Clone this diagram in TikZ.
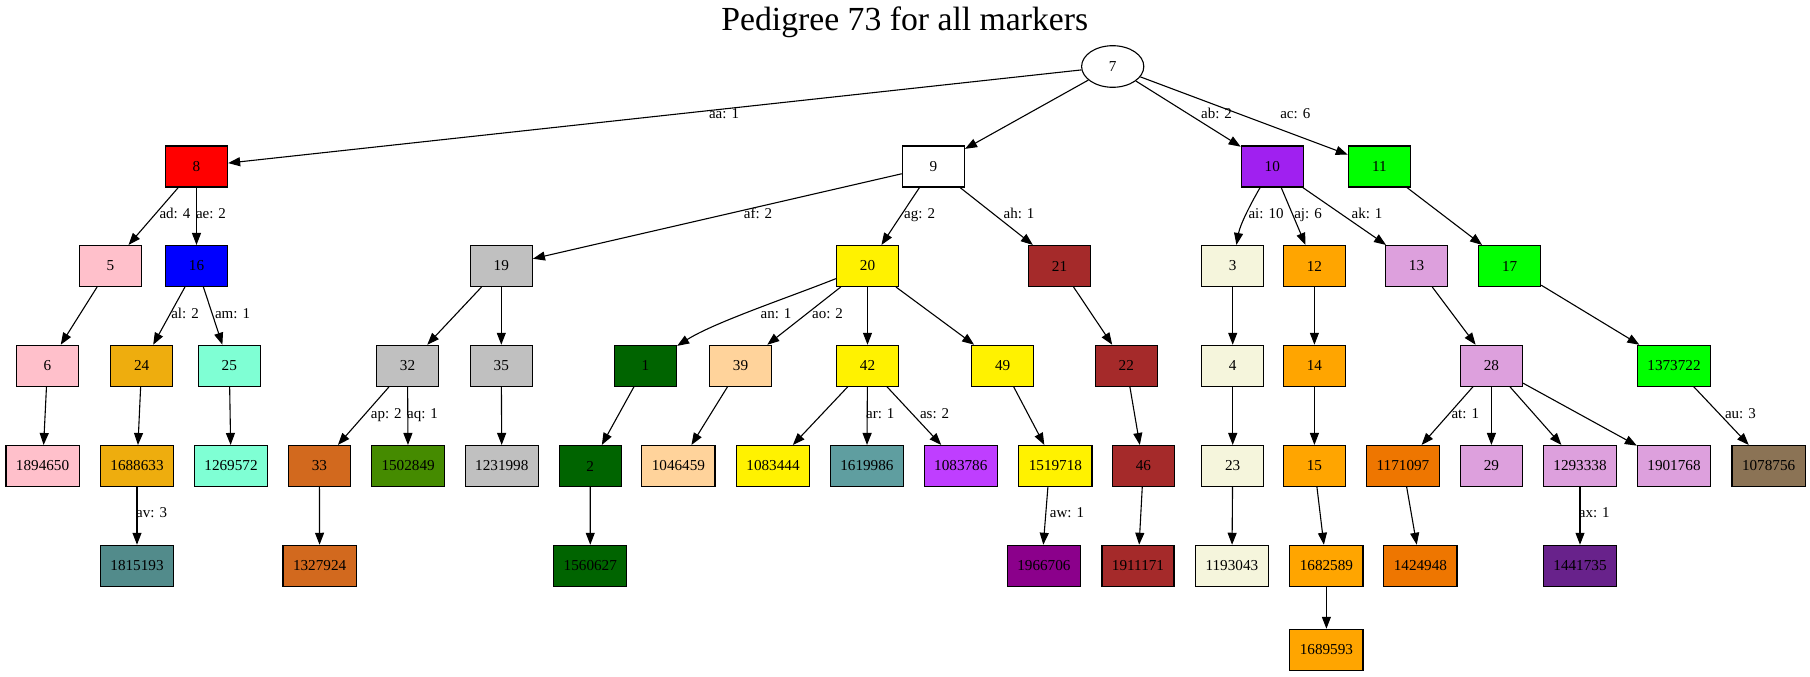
\documentclass[tikz,border=0pt]{standalone}
\usepackage{fontspec}
\setmainfont{Liberation Serif}
\usetikzlibrary{arrows.meta,shapes.geometric}
\definecolor{cpink}{HTML}{FFC0CB}
\definecolor{cgray}{HTML}{C0C0C0}
\definecolor{cbrown}{HTML}{A52A2A}
\definecolor{cpurple}{HTML}{A020F0}
\definecolor{cgreen}{HTML}{00FF00}
\definecolor{cbeige}{HTML}{F5F5DC}
\definecolor{corange}{HTML}{FFA500}
\definecolor{cplum}{HTML}{DDA0DD}
\definecolor{cgold}{HTML}{EEAD0E}
\definecolor{caqua}{HTML}{7FFFD4}
\definecolor{cchoc}{HTML}{D2691E}
\definecolor{cchart}{HTML}{458B00}
\definecolor{cdkgreen}{HTML}{006400}
\definecolor{cslate}{HTML}{528B8B}
\definecolor{cburly}{HTML}{FFD39B}
\definecolor{ccadet}{HTML}{5F9EA0}
\definecolor{corchid}{HTML}{BF3EFF}
\definecolor{cmagenta}{HTML}{8B008B}
\definecolor{cdkorange}{HTML}{EE7600}
\definecolor{cburlyfour}{HTML}{8B7355}
\definecolor{corchidfour}{HTML}{68228B}
\newcommand{\nodefont}{\fontsize{15.2}{18}\selectfont}
\newcommand{\lblfont}{\fontsize{15}{18}\selectfont}
\tikzset{
  box/.style={draw, rectangle, minimum width=62.2pt, minimum height=41pt, inner xsep=10pt, inner ysep=2pt, font=\nodefont, line width=1.1pt},
  oval/.style={draw, ellipse, minimum width=62.2pt, minimum height=41.6pt, inner sep=1pt, font=\nodefont, line width=1.1pt},
  conn/.style={-{Triangle[length=12pt,width=9pt]}, line width=1.1pt},
  lbl/.style={anchor=mid, inner sep=0pt, font=\lblfont}
}
\begin{document}
\begin{tikzpicture}[x=1pt,y=-1pt]
\fill[white] (0,0) rectangle (1810,677);
\useasboundingbox (0,0) rectangle (1810,677);
\node[anchor=base, inner sep=0pt, font=\fontsize{33.7}{40}\selectfont] (title) at (904.8,30.7) {Pedigree 73 for all markers};
% row 1
\node[oval] (n7) at (1112.7,66.5) {7};
% row 2
\node[box, fill=red] (n8) at (196.5,166.5) {8};
\node[box, fill=white] (n9) at (933.4,166.5) {9};
\node[box, fill=cpurple] (n10) at (1272.3,166.5) {10};
\node[box, fill=cgreen] (n11) at (1379.4,166.5) {11};
% row 3
\node[box, fill=cpink] (n5) at (110.3,266) {5};
\node[box, fill=blue] (n16) at (196.5,266) {16};
\node[box, fill=cgray] (n19) at (501.3,266) {19};
\node[box, fill=yellow] (n20) at (867.5,266) {20};
\node[box, fill=cbrown] (n21) at (1059.5,266) {21};
\node[box, fill=cbeige] (n3) at (1232.7,266) {3};
\node[box, fill=corange] (n12) at (1314.4,266) {12};
\node[box, fill=cplum] (n13) at (1416.5,266) {13};
\node[box, fill=cgreen] (n17) at (1509.6,266) {17};
% row 4
\node[box, fill=cpink] (n6) at (47.5,365.8) {6};
\node[box, fill=cgold] (n24) at (141.6,365.8) {24};
\node[box, fill=caqua] (n25) at (229.3,365.8) {25};
\node[box, fill=cgray] (n32) at (407.5,365.8) {32};
\node[box, fill=cgray] (n35) at (501.3,365.8) {35};
\node[box, fill=cdkgreen] (n1) at (645.5,365.8) {1};
\node[box, fill=cburly] (n39) at (740.5,365.8) {39};
\node[box, fill=yellow] (n42) at (867.5,365.8) {42};
\node[box, fill=yellow] (n49) at (1002.6,365.8) {49};
\node[box, fill=cbrown] (n22) at (1126.3,365.8) {22};
\node[box, fill=cbeige] (n4) at (1232.7,365.8) {4};
\node[box, fill=corange] (n14) at (1314.4,365.8) {14};
\node[box, fill=cplum] (n28) at (1491.4,365.8) {28};
\node[box, fill=cgreen] (n1373722) at (1674,365.8) {1373722};
% row 5
\node[box, fill=cpink] (n1894650) at (42.6,466) {1894650};
\node[box, fill=cgold] (n1688633) at (137,466) {1688633};
\node[box, fill=caqua] (n1269572) at (231,466) {1269572};
\node[box, fill=cchoc] (n33) at (319.4,466) {33};
\node[box, fill=cchart] (n1502849) at (408.1,466) {1502849};
\node[box, fill=cgray] (n1231998) at (501.8,466) {1231998};
\node[box, fill=cdkgreen] (n2) at (590.2,466) {2};
\node[box, fill=cburly] (n1046459) at (678.4,466) {1046459};
\node[box, fill=yellow] (n1083444) at (773,466) {1083444};
\node[box, fill=ccadet] (n1619986) at (866.9,466) {1619986};
\node[box, fill=corchid] (n1083786) at (960.8,466) {1083786};
\node[box, fill=yellow] (n1519718) at (1055.4,466) {1519718};
\node[box, fill=cbrown] (n46) at (1143.4,466) {46};
\node[box, fill=cbeige] (n23) at (1232.7,466) {23};
\node[box, fill=corange] (n15) at (1314.4,466) {15};
\node[box, fill=cdkorange] (n1171097) at (1403,466) {1171097};
\node[box, fill=cplum] (n29) at (1491.4,466) {29};
\node[box, fill=cplum] (n1293338) at (1580,466) {1293338};
\node[box, fill=cplum] (n1901768) at (1674,466) {1901768};
\node[box, fill=cburlyfour] (n1078756) at (1768.6,466) {1078756};
% row 6
\node[box, fill=cslate] (n1815193) at (137,565.8) {1815193};
\node[box, fill=cchoc] (n1327924) at (319.6,565.8) {1327924};
\node[box, fill=cdkgreen] (n1560627) at (590.3,565.8) {1560627};
\node[box, fill=cmagenta] (n1966706) at (1043.9,565.8) {1966706};
\node[box, fill=cbrown] (n1911171) at (1138,565.8) {1911171};
\node[box, fill=cbeige] (n1193043) at (1231.9,565.8) {1193043};
\node[box, fill=corange] (n1682589) at (1326.4,565.8) {1682589};
\node[box, fill=cdkorange] (n1424948) at (1420.4,565.8) {1424948};
\node[box, fill=corchidfour] (n1441735) at (1580,565.8) {1441735};
% row 7
\node[box, fill=corange] (n1689593) at (1326.4,649.8) {1689593};
% edges
\draw[conn] (n7) -- (n8);
\draw[conn] (n7) -- (n9);
\draw[conn] (n7) -- (n10);
\draw[conn] (n7) -- (n11);
\draw[conn] (n8) -- (n5);
\draw[conn] (n8) -- (n16);
\draw[conn] (n9) -- (n19);
\draw[conn] (n9) -- (n20);
\draw[conn] (n9) -- (n21);
\draw[conn] (n10) .. controls (1250,205) and (1240,225) .. (n3);
\draw[conn] (n10) -- (n12);
\draw[conn] (n10) -- (n13);
\draw[conn] (n11) -- (n17);
\draw[conn] (n5) -- (n6);
\draw[conn] (n16) -- (n24);
\draw[conn] (n16) -- (n25);
\draw[conn] (n19) -- (n32);
\draw[conn] (n19) -- (n35);
\draw[conn] (n20) .. controls (790,297) and (715,322) .. (n1);
\draw[conn] (n20) -- (n39);
\draw[conn] (n20) -- (n42);
\draw[conn] (n20) -- (n49);
\draw[conn] (n21) -- (n22);
\draw[conn] (n3) -- (n4);
\draw[conn] (n12) -- (n14);
\draw[conn] (n13) -- (n28);
\draw[conn] (n17) -- (n1373722);
\draw[conn] (n6) -- (n1894650);
\draw[conn] (n24) -- (n1688633);
\draw[conn] (n25) -- (n1269572);
\draw[conn] (n32) -- (n33);
\draw[conn] (n32) -- (n1502849);
\draw[conn] (n35) -- (n1231998);
\draw[conn] (n1) -- (n2);
\draw[conn] (n39) -- (n1046459);
\draw[conn] (n42) -- (n1083444);
\draw[conn] (n42) -- (n1619986);
\draw[conn] (n42) -- (n1083786);
\draw[conn] (n49) -- (n1519718);
\draw[conn] (n22) -- (n46);
\draw[conn] (n4) -- (n23);
\draw[conn] (n14) -- (n15);
\draw[conn] (n28) -- (n1171097);
\draw[conn] (n28) -- (n29);
\draw[conn] (n28) -- (n1293338);
\draw[conn] (n28) -- (n1901768);
\draw[conn] (n1373722) -- (n1078756);
\draw[conn] (n1688633) -- (n1815193);
\draw[conn] (n33) -- (n1327924);
\draw[conn] (n2) -- (n1560627);
\draw[conn] ([xshift=-7.5pt]n1519718.south) -- ([xshift=-0.6pt]n1966706.north);
\draw[conn] (n46) -- (n1911171);
\draw[conn] (n23) -- (n1193043);
\draw[conn] (n15) -- (n1682589);
\draw[conn] (n1171097) -- (n1424948);
\draw[conn] (n1293338) -- (n1441735);
\draw[conn] (n1682589) -- (n1689593);
% edge labels
\node[lbl] (laa) at (724,116) {aa: 1};
\node[lbl] (lab) at (1216.5,116) {ab: 2};
\node[lbl] (lac) at (1295.3,116) {ac: 6};
\node[lbl] (lad) at (175,216) {ad: 4};
\node[lbl] (lae) at (211,216) {ae: 2};
\node[lbl] (laf) at (758,216) {af: 2};
\node[lbl] (lag) at (919.6,216) {ag: 2};
\node[lbl] (lah) at (1019,216) {ah: 1};
\node[lbl] (lai) at (1266,216) {ai: 10};
\node[lbl] (laj) at (1308,216) {aj: 6};
\node[lbl] (lak) at (1367,216) {ak: 1};
\node[lbl] (lal) at (185,316) {al: 2};
\node[lbl] (lam) at (232.5,316) {am: 1};
\node[lbl] (lan) at (776,316) {an: 1};
\node[lbl] (lao) at (827.5,316) {ao: 2};
\node[lbl] (lap) at (386.3,416.7) {ap: 2};
\node[lbl] (laq) at (422.5,416.7) {aq: 1};
\node[lbl] (lar) at (880.3,416.7) {ar: 1};
\node[lbl] (las) at (934.6,416.7) {as: 2};
\node[lbl] (lat) at (1465.3,416.7) {at: 1};
\node[lbl] (lau) at (1740.4,416.7) {au: 3};
\node[lbl] (lav) at (151.6,515.3) {av: 3};
\node[lbl] (law) at (1067,515.3) {aw: 1};
\node[lbl] (lax) at (1594.3,515.3) {ax: 1};
\end{tikzpicture}
\end{document}
